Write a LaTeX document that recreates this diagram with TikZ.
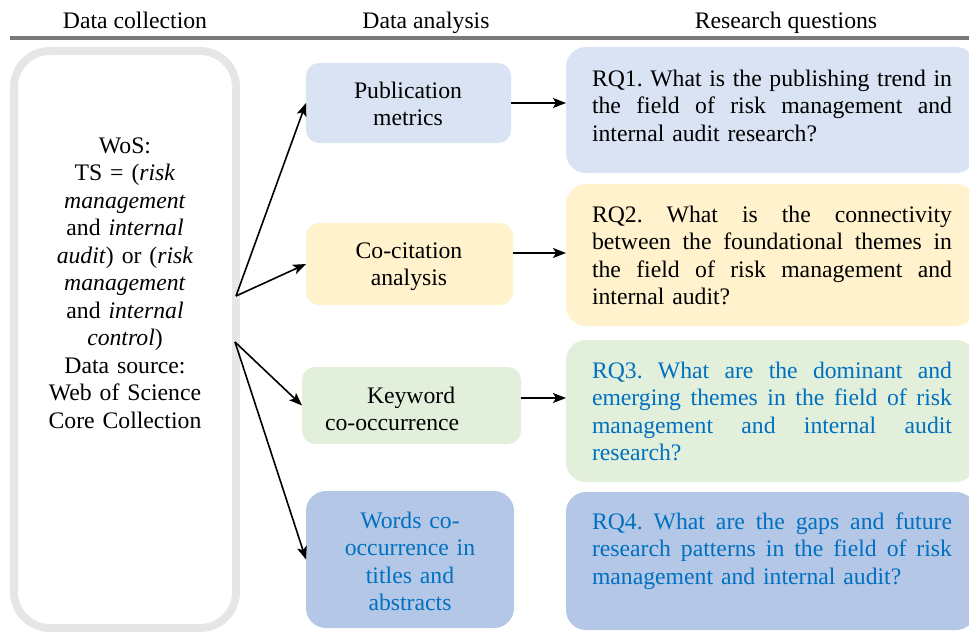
\documentclass[tikz,border=0pt]{standalone}
\usepackage{fontspec}
\setmainfont{Liberation Serif}
\usetikzlibrary{arrows.meta}
\definecolor{lblue}{HTML}{DAE3F3}
\definecolor{lyellow}{HTML}{FFF2CC}
\definecolor{lgreen}{HTML}{E2EFDA}
\definecolor{mblue}{HTML}{B4C7E7}
\definecolor{tblue}{HTML}{0070C0}
\definecolor{lgray}{HTML}{E6E6E6}
\definecolor{hgray}{HTML}{7A7A7A}
\newlength{\rqw}\setlength{\rqw}{360pt}
\newcommand{\jl}[1]{\leavevmode\hbox to\rqw{\spaceskip=\fontdimen2\font plus 1fil minus 1.5pt\xspaceskip=\spaceskip #1}}
\begin{document}
\begin{tikzpicture}[x=1pt,y=-1pt,
  txt/.style={font=\fontsize{23.7}{27.5}\selectfont, inner sep=0pt, outer sep=0pt},
  midbox/.style={rounded corners=13pt, inner sep=0pt, outer sep=0pt},
  rqbox/.style={rounded corners=20pt, inner sep=0pt, outer sep=0pt, minimum width=410pt},
  rqtxt/.style={txt, anchor=base west, text width=\rqw, align=left},
  midtxt/.style={txt, anchor=base, text width=200pt, align=center},
  arr/.style={line width=1.6pt, -{Stealth[length=13pt,width=10pt,inset=3pt]}},
]
\useasboundingbox (0,0) rectangle (969,634);

% header
\node[txt, anchor=base] (h1) at (135,29) {Data collection};
\node[txt, anchor=base] (h2) at (426,29) {Data analysis};
\node[txt, anchor=base] (h3) at (786,29) {Research questions};
\coordinate (hl) at (10,38);
\coordinate (hr) at (969,38);
\draw[hgray, line width=3.2pt] (hl) -- (hr);

% left source box
\node[draw=lgray, line width=8pt, rounded corners=36pt, inner sep=0pt, outer sep=0pt,
      minimum width=222pt, minimum height=577pt] (src) at (125,339.5) {};
\node[txt, anchor=base, text width=210pt, align=center] (srctxt) at (125,153)
 {WoS:\\TS = (\textit{risk}\\\textit{management}\\and \textit{internal}\\\textit{audit}) or (\textit{risk}\\\textit{management}\\and \textit{internal}\\\textit{control})\\Data source:\\Web of Science\\Core Collection};
\coordinate (o1) at (236,296);
\coordinate (o2) at (235,342);

% middle boxes
\node[midbox, fill=lblue, minimum width=205pt, minimum height=80pt] (pub) at (408.5,103) {};
\node[midbox, fill=lyellow, minimum width=207pt, minimum height=82pt] (cocit) at (409.5,264) {};
\node[midbox, fill=lgreen, minimum width=219pt, minimum height=77pt] (kw) at (411.5,405.5) {};
\node[midbox, rounded corners=20pt, fill=mblue, minimum width=208pt, minimum height=137pt] (words) at (410,559.5) {};

\node[midtxt] (pubtxt) at (408,98) {Publication\\metrics};
\node[midtxt] (cocittxt) at (409,258) {Co-citation\\analysis};
\node[txt, anchor=base west, text width=150pt, align=left] (kwtxt) at (325,403) {\hspace*{42pt}Keyword\\co-occurrence};
\node[midtxt, text=tblue] (wordstxt) at (410,528) {Words co-\\occurrence in\\titles and\\abstracts};

% right boxes
\node[rqbox, fill=lblue, minimum height=126pt] (rq1) at (771,110) {};
\node[rqbox, fill=lyellow, minimum height=142pt] (rq2) at (771,255) {};
\node[rqbox, fill=lgreen, minimum height=142pt] (rq3) at (771,411) {};
\node[rqbox, fill=mblue, minimum height=138pt] (rq4) at (771,561) {};

\node[rqtxt] (rq1txt) at (592,86)
 {\jl{RQ1. What is the publishing trend in}\\\jl{the field of risk management and}\\internal audit research?};
\node[rqtxt] (rq2txt) at (592,222)
 {\jl{RQ2. What is the connectivity}\\\jl{between the foundational themes in}\\\jl{the field of risk management and}\\internal audit?};
\node[rqtxt, text=tblue] (rq3txt) at (592,378)
 {\jl{RQ3. What are the dominant and}\\\jl{emerging themes in the field of risk}\\\jl{management and internal audit}\\research?};
\node[rqtxt, text=tblue] (rq4txt) at (592,529)
 {\jl{RQ4. What are the gaps and future}\\\jl{research patterns in the field of risk}\\management and internal audit?};

% arrows
\draw[arr] (o1) -- (pub.west);
\draw[arr] (o1) -- (cocit.west);
\draw[arr] (o2) -- (kw.west);
\draw[arr] (o2) -- (words.west);

\draw[arr] (pub.east) -- (pub.east -| rq1.west);
\draw[arr] ([yshift=11pt]cocit.east) -- ([yshift=11pt]cocit.east -| rq2.west);
\draw[arr] ([yshift=7.5pt]kw.east) -- ([yshift=7.5pt]kw.east -| rq3.west);
\end{tikzpicture}
\end{document}
